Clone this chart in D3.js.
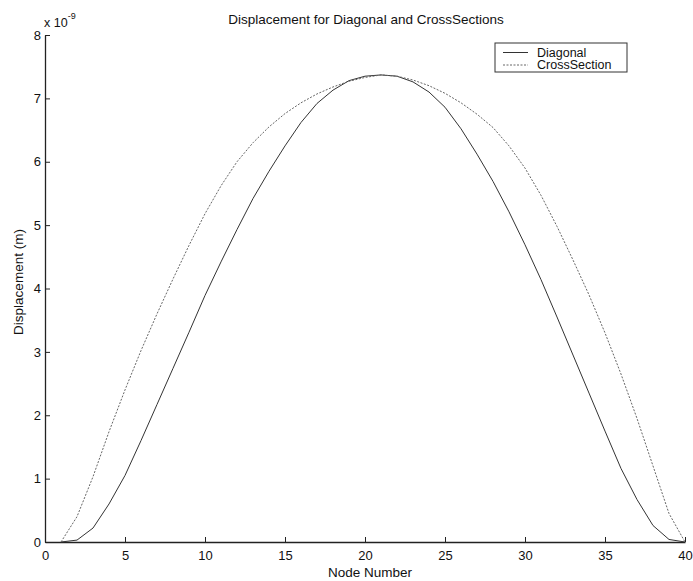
<!DOCTYPE html>
<html>
<head>
<meta charset="utf-8">
<script src="https://cdn.jsdelivr.net/npm/d3@7/dist/d3.min.js"></script>
<style>
  html, body { margin: 0; padding: 0; background: #fff; }
  svg { display: block; font-family: "Liberation Sans", Arial, sans-serif; }
</style>
</head>
<body>
<svg id="chart" width="693" height="581"></svg>
<script>
const nodes = d3.range(1, 41);
const diagonal = [0, 0.03, 0.22, 0.60, 1.05, 1.60, 2.17, 2.74, 3.31, 3.89,
  4.42, 4.93, 5.42, 5.85, 6.25, 6.62, 6.92, 7.13, 7.28, 7.35,
  7.37, 7.35, 7.26, 7.10, 6.86, 6.52, 6.12, 5.69, 5.21, 4.69,
  4.14, 3.55, 2.95, 2.35, 1.75, 1.16, 0.67, 0.26, 0.04, 0];
const crossSection = [0, 0.40, 1.03, 1.74, 2.40, 3.02, 3.60, 4.15, 4.68, 5.18,
  5.62, 6.00, 6.30, 6.55, 6.76, 6.93, 7.07, 7.18, 7.27, 7.33,
  7.37, 7.35, 7.29, 7.20, 7.08, 6.93, 6.75, 6.54, 6.25, 5.90,
  5.47, 4.98, 4.45, 3.90, 3.30, 2.65, 1.95, 1.20, 0.45, 0];
const xTicks = [0, 5, 10, 15, 20, 25, 30, 35, 40];
const yTicks = [0, 1, 2, 3, 4, 5, 6, 7, 8];
const seriesNames = ["Diagonal", "CrossSection"];

const svg = d3.select("#chart");
const mLeft = 45, mRight = 685, mTop = 35, mBottom = 542;
const x = d3.scaleLinear().domain([0, 40]).range([mLeft, mRight]);
const y = d3.scaleLinear().domain([0, 8]).range([mBottom, mTop]);

// axes
const xAxis = d3.axisBottom(x).tickValues(xTicks).tickSize(-5).tickPadding(9).tickSizeOuter(0);
const gx = svg.append("g").attr("transform", `translate(0,${mBottom})`).call(xAxis);
gx.select(".domain").attr("stroke", "#222").attr("stroke-width", 1.3);
gx.selectAll(".tick line").attr("stroke", "#222");
gx.selectAll("text").attr("font-size", 13).attr("fill", "#111");

const yAxis = d3.axisLeft(y).tickValues(yTicks).tickSize(-5).tickPadding(4).tickSizeOuter(0);
const gy = svg.append("g").attr("transform", `translate(${mLeft},0)`).call(yAxis);
gy.select(".domain").attr("stroke", "#222").attr("stroke-width", 1.3);
gy.selectAll(".tick line").attr("stroke", "#222");
gy.selectAll("text").attr("font-size", 13).attr("fill", "#111");

// exponent label
const ex = svg.append("text").attr("x", 44).attr("y", 27).attr("font-size", 12.5).attr("fill", "#111");
ex.append("tspan").text("x 10");
ex.append("tspan").attr("dy", -8).attr("font-size", 9).text("-9");

// lines
const line = d3.line().x((d, i) => x(nodes[i])).y(d => y(d));
svg.append("path").datum(diagonal).attr("d", line)
  .attr("fill", "none").attr("stroke", "#333").attr("stroke-width", 1);
svg.append("path").datum(crossSection).attr("d", line)
  .attr("fill", "none").attr("stroke", "#666").attr("stroke-width", 1)
  .attr("stroke-dasharray", "2,1.5");

// title & labels
svg.append("text").attr("x", 366).attr("y", 24).attr("text-anchor", "middle")
  .attr("font-size", 13.5).attr("fill", "#111").text("Displacement for Diagonal and CrossSections");
svg.append("text").attr("x", 370).attr("y", 577).attr("text-anchor", "middle")
  .attr("font-size", 13.5).attr("fill", "#111").text("Node Number");
svg.append("text").attr("transform", "translate(23,282) rotate(-90)").attr("text-anchor", "middle")
  .attr("font-size", 13.5).attr("fill", "#111").text("Displacement (m)");

// legend
const lg = svg.append("g");
lg.append("rect").attr("x", 495).attr("y", 43).attr("width", 132).attr("height", 29)
  .attr("fill", "#fff").attr("stroke", "#333").attr("stroke-width", 1);
const styles = [{stroke: "#333", dash: null}, {stroke: "#666", dash: "2,1.5"}];
seriesNames.forEach((name, i) => {
  const yy = 52.5 + i * 12.5;
  lg.append("line").attr("x1", 503).attr("x2", 528).attr("y1", yy).attr("y2", yy)
    .attr("stroke", styles[i].stroke).attr("stroke-width", 1)
    .attr("stroke-dasharray", styles[i].dash);
  lg.append("text").attr("x", 537).attr("y", yy + 4).attr("font-size", 12.5)
    .attr("fill", "#111").text(name);
});
</script>
</body>
</html>
